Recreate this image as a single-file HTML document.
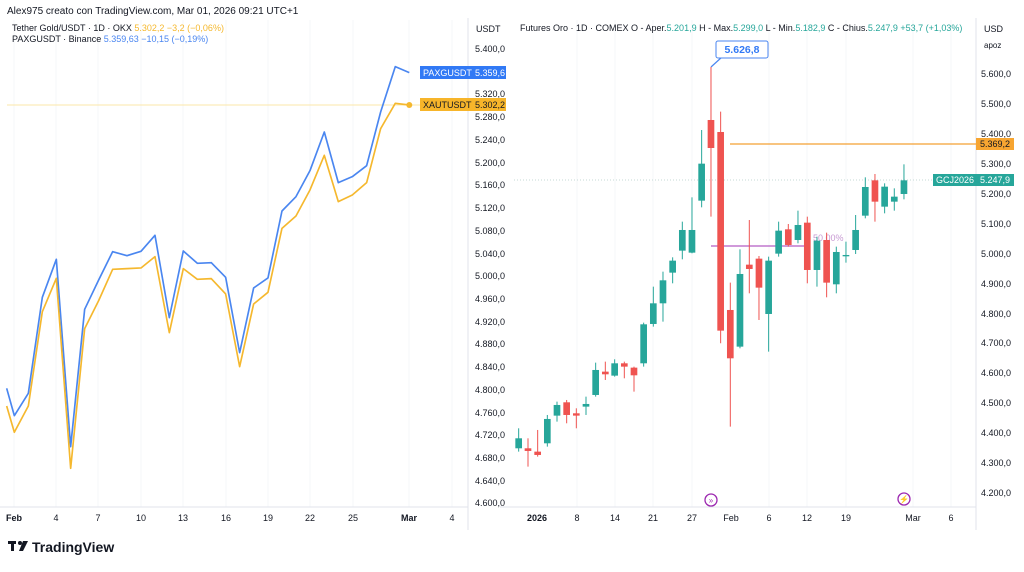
<!DOCTYPE html>
<html><head><meta charset="utf-8"><style>
body{margin:0;width:1024px;height:567px;background:#fff;overflow:hidden;font-family:"Liberation Sans",sans-serif}
svg text{font-family:"Liberation Sans",sans-serif}
</style></head><body>
<svg width="1024" height="567" xmlns="http://www.w3.org/2000/svg">
<text x="7" y="14" font-size="10" fill="#131722">Alex975 creato con TradingView.com, Mar 01, 2026 09:21 UTC+1</text>
<g stroke="#f6f7f9" stroke-width="1">
<line x1="56" y1="20" x2="56" y2="507"/><line x1="98" y1="20" x2="98" y2="507"/><line x1="141" y1="20" x2="141" y2="507"/><line x1="183" y1="20" x2="183" y2="507"/><line x1="226" y1="20" x2="226" y2="507"/><line x1="268" y1="20" x2="268" y2="507"/><line x1="310" y1="20" x2="310" y2="507"/><line x1="353" y1="20" x2="353" y2="507"/><line x1="409" y1="20" x2="409" y2="507"/><line x1="452" y1="20" x2="452" y2="507"/>
<line x1="577" y1="20" x2="577" y2="507"/><line x1="615" y1="20" x2="615" y2="507"/><line x1="653" y1="20" x2="653" y2="507"/><line x1="692" y1="20" x2="692" y2="507"/><line x1="769" y1="20" x2="769" y2="507"/><line x1="807" y1="20" x2="807" y2="507"/><line x1="846" y1="20" x2="846" y2="507"/><line x1="913" y1="20" x2="913" y2="507"/><line x1="951" y1="20" x2="951" y2="507"/>
<line x1="14" y1="20" x2="14" y2="507"/><line x1="183" y1="20" x2="183" y2="507"/>
</g>
<line x1="468" y1="18" x2="468" y2="530" stroke="#e0e3eb"/>
<line x1="976" y1="18" x2="976" y2="530" stroke="#e0e3eb"/>
<line x1="0" y1="507" x2="468" y2="507" stroke="#e0e3eb"/>
<line x1="500" y1="507" x2="976" y2="507" stroke="#e0e3eb"/>
<text x="12" y="31" font-size="9" fill="#131722">Tether Gold/USDT · 1D · OKX <tspan fill="#f5b82e">5.302,2  −3,2 (−0,06%)</tspan></text>
<text x="12" y="42" font-size="9" fill="#131722">PAXGUSDT · Binance <tspan fill="#4a86f0">5.359,63  −10,15 (−0,19%)</tspan></text>
<line x1="7" y1="105" x2="420" y2="105" stroke="#fbe7a8" stroke-width="1"/>
<g transform="translate(0,50) scale(0.3333)" fill="none" stroke-width="5" stroke-linejoin="round">
<polyline stroke="#4a86f0" points="20,1015 43,1097 85,1030 127,742 169,628 212,1190 254,778 296,690 338,605 381,617 423,604 465,556 508,803 550,603 592,640 634,638 677,682 719,908 761,714 804,684 846,483 888,440 930,362 973,246 1015,398 1057,380 1100,347 1142,186 1186,50 1228,68"/>
<polyline stroke="#f5b82e" points="20,1068 43,1147 85,1068 127,785 169,685 212,1255 254,836 296,752 338,658 381,656 423,654 465,620 508,848 550,656 592,688 634,686 677,732 719,950 761,762 804,727 846,535 888,498 930,420 973,316 1015,455 1057,435 1100,398 1142,236 1186,160 1228,165"/>
<circle cx="1228" cy="165" r="9" fill="#f5b82e" stroke="none"/>
</g>
<text x="476" y="32" font-size="9" fill="#131722">USDT</text>
<g font-size="9" fill="#131722">
<text x="475" y="52">5.400,0</text><text x="475" y="97">5.320,0</text><text x="475" y="120">5.280,0</text><text x="475" y="143">5.240,0</text><text x="475" y="166">5.200,0</text><text x="475" y="188">5.160,0</text><text x="475" y="211">5.120,0</text><text x="475" y="234">5.080,0</text><text x="475" y="257">5.040,0</text><text x="475" y="279">5.000,0</text><text x="475" y="302">4.960,0</text><text x="475" y="325">4.920,0</text><text x="475" y="347">4.880,0</text><text x="475" y="370">4.840,0</text><text x="475" y="393">4.800,0</text><text x="475" y="416">4.760,0</text><text x="475" y="438">4.720,0</text><text x="475" y="461">4.680,0</text><text x="475" y="484">4.640,0</text><text x="475" y="506">4.600,0</text>
</g>
<rect x="420" y="66" width="86" height="13" fill="#3179f5"/>
<text x="423" y="76" font-size="9" fill="#fff">PAXGUSDT</text><text x="475" y="76" font-size="9" fill="#fff">5.359,6</text>
<rect x="420" y="98" width="86" height="13" fill="#f7b52a"/>
<text x="423" y="108" font-size="9" fill="#131722">XAUTUSDT</text><text x="475" y="108" font-size="9" fill="#131722">5.302,2</text>
<text x="520" y="31" font-size="9" fill="#131722">Futures Oro · 1D · COMEX  O - Aper.<tspan fill="#26a69a">5.201,9</tspan>  H - Max.<tspan fill="#26a69a">5.299,0</tspan>  L - Min.<tspan fill="#26a69a">5.182,9</tspan>  C - Chius.<tspan fill="#26a69a">5.247,9  +53,7 (+1,03%)</tspan></text>
<line x1="514" y1="180" x2="976" y2="180" stroke="#c5d8d6" stroke-dasharray="1,2"/>
<line x1="730" y1="144" x2="976" y2="144" stroke="#f5b055" stroke-width="1.5"/>
<line x1="711" y1="246" x2="805" y2="246" stroke="#b45cc4" stroke-width="1.2"/>
<text x="813" y="241" font-size="9" fill="#c89ad3">50,00%</text>
<line x1="711" y1="67" x2="711" y2="120" stroke="#ef5350" stroke-opacity="0.6" stroke-width="1"/>
<path d="M711,67 L722,57" stroke="#4a86f0" stroke-width="1.2"/>
<rect x="716" y="41" width="52" height="17" rx="2" fill="#fff" stroke="#4a86f0"/>
<text x="742" y="53" font-size="10.5" font-weight="bold" fill="#3179f5" text-anchor="middle">5.626,8</text>
<g transform="translate(500,100) scale(0.3333)">
<g stroke-width="3">
<line x1="56" y1="985" x2="56" y2="1055" stroke="#26a69a"/><line x1="84" y1="1015" x2="84" y2="1100" stroke="#ef5350"/><line x1="113" y1="990" x2="113" y2="1070" stroke="#ef5350"/><line x1="142" y1="945" x2="142" y2="1040" stroke="#26a69a"/><line x1="171" y1="905" x2="171" y2="965" stroke="#26a69a"/><line x1="200" y1="900" x2="200" y2="970" stroke="#ef5350"/><line x1="229" y1="925" x2="229" y2="985" stroke="#ef5350"/><line x1="258" y1="890" x2="258" y2="945" stroke="#26a69a"/><line x1="287" y1="788" x2="287" y2="890" stroke="#26a69a"/><line x1="316" y1="785" x2="316" y2="840" stroke="#ef5350"/><line x1="344" y1="778" x2="344" y2="830" stroke="#26a69a"/><line x1="373" y1="785" x2="373" y2="835" stroke="#ef5350"/><line x1="402" y1="800" x2="402" y2="875" stroke="#ef5350"/><line x1="431" y1="668" x2="431" y2="800" stroke="#26a69a"/><line x1="460" y1="560" x2="460" y2="680" stroke="#26a69a"/><line x1="489" y1="515" x2="489" y2="665" stroke="#26a69a"/><line x1="518" y1="472" x2="518" y2="550" stroke="#26a69a"/><line x1="547" y1="365" x2="547" y2="478" stroke="#26a69a"/><line x1="576" y1="292" x2="576" y2="460" stroke="#26a69a"/><line x1="605" y1="90" x2="605" y2="322" stroke="#26a69a"/><line x1="633" y1="-99" x2="633" y2="350" stroke="#ef5350"/><line x1="662" y1="35" x2="662" y2="730" stroke="#ef5350"/><line x1="691" y1="548" x2="691" y2="980" stroke="#ef5350"/><line x1="720" y1="448" x2="720" y2="745" stroke="#26a69a"/><line x1="748" y1="360" x2="748" y2="580" stroke="#ef5350"/><line x1="777" y1="468" x2="777" y2="660" stroke="#ef5350"/><line x1="806" y1="470" x2="806" y2="755" stroke="#26a69a"/><line x1="836" y1="365" x2="836" y2="470" stroke="#26a69a"/><line x1="865" y1="372" x2="865" y2="440" stroke="#ef5350"/><line x1="894" y1="332" x2="894" y2="430" stroke="#26a69a"/><line x1="922" y1="350" x2="922" y2="550" stroke="#ef5350"/><line x1="951" y1="410" x2="951" y2="560" stroke="#26a69a"/><line x1="980" y1="398" x2="980" y2="592" stroke="#ef5350"/><line x1="1009" y1="440" x2="1009" y2="580" stroke="#26a69a"/><line x1="1038" y1="425" x2="1038" y2="488" stroke="#26a69a"/><line x1="1067" y1="345" x2="1067" y2="462" stroke="#26a69a"/><line x1="1096" y1="232" x2="1096" y2="355" stroke="#26a69a"/><line x1="1125" y1="222" x2="1125" y2="365" stroke="#ef5350"/><line x1="1154" y1="250" x2="1154" y2="340" stroke="#26a69a"/><line x1="1183" y1="265" x2="1183" y2="332" stroke="#26a69a"/><line x1="1212" y1="193" x2="1212" y2="298" stroke="#26a69a"/>
</g>
<g>
<rect x="46" y="1015" width="20" height="30" fill="#26a69a"/><rect x="74" y="1045" width="20" height="8" fill="#ef5350"/><rect x="103" y="1055" width="20" height="10" fill="#ef5350"/><rect x="132" y="957" width="20" height="73" fill="#26a69a"/><rect x="161" y="915" width="20" height="32" fill="#26a69a"/><rect x="190" y="907" width="20" height="38" fill="#ef5350"/><rect x="219" y="940" width="20" height="7" fill="#ef5350"/><rect x="248" y="912" width="20" height="8" fill="#26a69a"/><rect x="277" y="810" width="20" height="75" fill="#26a69a"/><rect x="306" y="815" width="20" height="8" fill="#ef5350"/><rect x="334" y="790" width="20" height="37" fill="#26a69a"/><rect x="363" y="790" width="20" height="10" fill="#ef5350"/><rect x="392" y="803" width="20" height="23" fill="#ef5350"/><rect x="421" y="673" width="20" height="117" fill="#26a69a"/><rect x="450" y="610" width="20" height="62" fill="#26a69a"/><rect x="479" y="541" width="20" height="69" fill="#26a69a"/><rect x="508" y="482" width="20" height="36" fill="#26a69a"/><rect x="537" y="390" width="20" height="62" fill="#26a69a"/><rect x="566" y="390" width="20" height="68" fill="#26a69a"/><rect x="595" y="191" width="20" height="111" fill="#26a69a"/><rect x="623" y="60" width="20" height="84" fill="#ef5350"/><rect x="652" y="96" width="20" height="596" fill="#ef5350"/><rect x="681" y="630" width="20" height="145" fill="#ef5350"/><rect x="710" y="522" width="20" height="218" fill="#26a69a"/><rect x="738" y="494" width="20" height="13" fill="#ef5350"/><rect x="767" y="476" width="20" height="87" fill="#ef5350"/><rect x="796" y="482" width="20" height="160" fill="#26a69a"/><rect x="826" y="392" width="20" height="69" fill="#26a69a"/><rect x="855" y="388" width="20" height="47" fill="#ef5350"/><rect x="884" y="375" width="20" height="45" fill="#26a69a"/><rect x="912" y="368" width="20" height="142" fill="#ef5350"/><rect x="941" y="422" width="20" height="88" fill="#26a69a"/><rect x="970" y="420" width="20" height="128" fill="#ef5350"/><rect x="999" y="456" width="20" height="97" fill="#26a69a"/><rect x="1028" y="465" width="20" height="4" fill="#26a69a"/><rect x="1057" y="390" width="20" height="60" fill="#26a69a"/><rect x="1086" y="261" width="20" height="86" fill="#26a69a"/><rect x="1115" y="241" width="20" height="64" fill="#ef5350"/><rect x="1144" y="260" width="20" height="60" fill="#26a69a"/><rect x="1173" y="290" width="20" height="15" fill="#26a69a"/><rect x="1202" y="241" width="20" height="41" fill="#26a69a"/>
</g></g>
<text x="984" y="32" font-size="9" fill="#131722">USD</text>
<text x="984" y="48" font-size="8" fill="#131722">apoz</text>
<g font-size="9" fill="#131722">
<text x="981" y="77">5.600,0</text><text x="981" y="107">5.500,0</text><text x="981" y="137">5.400,0</text><text x="981" y="167">5.300,0</text><text x="981" y="197">5.200,0</text><text x="981" y="227">5.100,0</text><text x="981" y="257">5.000,0</text><text x="981" y="287">4.900,0</text><text x="981" y="317">4.800,0</text><text x="981" y="346">4.700,0</text><text x="981" y="376">4.600,0</text><text x="981" y="406">4.500,0</text><text x="981" y="436">4.400,0</text><text x="981" y="466">4.300,0</text><text x="981" y="496">4.200,0</text>
</g>
<rect x="976" y="138" width="38" height="12" fill="#f7a531"/>
<text x="980" y="147" font-size="9" fill="#131722">5.369,2</text>
<rect x="933" y="174" width="81" height="12" fill="#26a69a"/>
<text x="936" y="183" font-size="9" fill="#fff">GCJ2026</text><text x="980" y="183" font-size="9" fill="#fff">5.247,9</text>
<circle cx="711" cy="500" r="6" fill="none" stroke="#9c27b0" stroke-width="1.3"/>
<text x="711" y="503" font-size="8" fill="#9c27b0" text-anchor="middle">»</text>
<circle cx="904" cy="499" r="6" fill="none" stroke="#9c27b0" stroke-width="1.3"/>
<text x="904" y="502" font-size="8" fill="#9c27b0" text-anchor="middle">⚡</text>
<g font-size="9" fill="#131722" text-anchor="middle">
<text x="14" y="521" font-weight="bold">Feb</text><text x="56" y="521">4</text><text x="98" y="521">7</text><text x="141" y="521">10</text><text x="183" y="521">13</text><text x="226" y="521">16</text><text x="268" y="521">19</text><text x="310" y="521">22</text><text x="353" y="521">25</text><text x="409" y="521" font-weight="bold">Mar</text><text x="452" y="521">4</text>
<text x="537" y="521" font-weight="bold">2026</text><text x="577" y="521">8</text><text x="615" y="521">14</text><text x="653" y="521">21</text><text x="692" y="521">27</text><text x="731" y="521">Feb</text><text x="769" y="521">6</text><text x="807" y="521">12</text><text x="846" y="521">19</text><text x="913" y="521">Mar</text><text x="951" y="521">6</text>
</g>
<g transform="translate(8,541)">
<rect x="0" y="0" width="8" height="3" fill="#131722"/><rect x="3" y="0" width="3" height="10" fill="#131722"/>
<circle cx="12" cy="2" r="2" fill="#131722"/><path d="M15,0 L20,0 L15,10 L11,10 Z" fill="#131722"/>
</g>
<text x="32" y="552" font-size="14" font-weight="bold" fill="#131722">TradingView</text>
</svg>
</body></html>
